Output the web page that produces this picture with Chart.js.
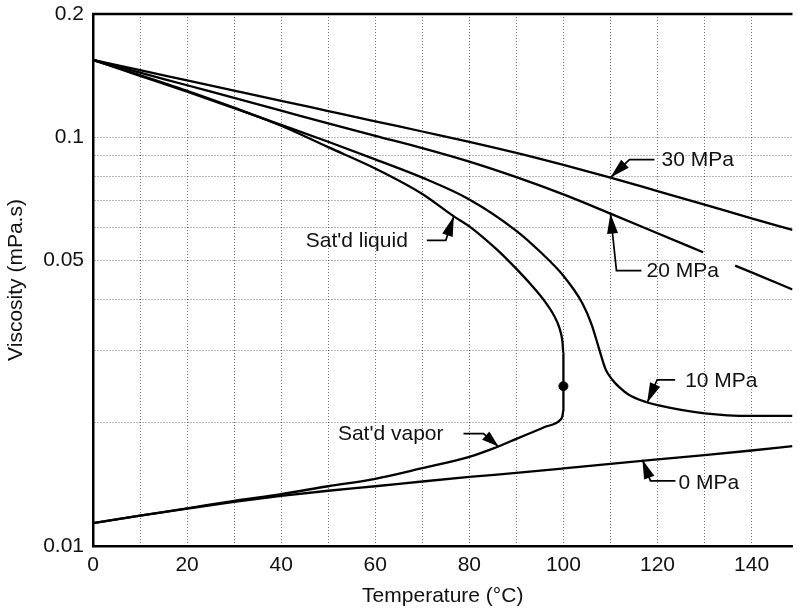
<!DOCTYPE html>
<html>
<head>
<meta charset="utf-8">
<script src="https://cdn.jsdelivr.net/npm/chart.js@4.4.1/dist/chart.umd.min.js"></script>
<style>
  html, body { margin: 0; padding: 0; background: #fff; }
  #wrap { width: 798px; height: 612px; position: relative; }
</style>
</head>
<body>
<div id="wrap"><canvas id="viscChart"></canvas></div>
<script>
// Viskositas air vs temperatur pada beberapa tekanan (skala log)
const temp30 = [0, 10, 20, 30, 40, 50, 60, 70, 80, 90, 100, 110, 120, 130, 140, 148.7];
const visc30 = [0.1544, 0.1458, 0.1376, 0.1299, 0.1227, 0.1158, 0.1093, 0.1032, 0.0974, 0.0915, 0.0855, 0.0796, 0.0738, 0.0684, 0.0633, 0.0593];

// garis 20 MPa terputus di tempat label (null = celah)
const temp20 = [0, 10, 20, 30, 40, 50, 60, 70, 80, 90, 100, 110, 120, 129.7, 133, 136.5, 140, 148.7];
const visc20 = [0.1544, 0.1438, 0.1339, 0.1247, 0.1161, 0.108, 0.1007, 0.094, 0.0871, 0.0798, 0.0724, 0.065, 0.0582, 0.0523, null, 0.0485, 0.0467, 0.0424];

const temp10 = [0, 10, 20, 30, 40, 50, 60, 70, 80, 90, 95, 100, 104, 106, 107.6, 109, 110.4, 111.8, 114, 117.5, 120, 130, 140, 148.7];
const visc10 = [0.1544, 0.1412, 0.1292, 0.1177, 0.1071, 0.0974, 0.0882, 0.0796, 0.0704, 0.059, 0.0525, 0.0458, 0.0393, 0.0348, 0.0303, 0.027, 0.0255, 0.0245, 0.0234, 0.0225, 0.0221, 0.0211, 0.0208, 0.0208];

const temp0 = [0, 10, 20, 30, 40, 50, 60, 70, 80, 90, 100, 110, 120, 130, 140, 148.7];
const visc0 = [0.01137, 0.01186, 0.01234, 0.01282, 0.01326, 0.01365, 0.0140, 0.01438, 0.01475, 0.0151, 0.01548, 0.01588, 0.01628, 0.01668, 0.01712, 0.01755];

const tempLiquid = [0, 10, 20, 30, 40, 50, 60, 70, 76.7, 80, 86, 90, 93, 96, 98, 99.2, 99.8, 100, 100];
const viscLiquid = [0.1544, 0.1418, 0.1298, 0.118, 0.1066, 0.0945, 0.0838, 0.0726, 0.064, 0.0605, 0.0529, 0.0476, 0.0437, 0.0397, 0.0366, 0.034, 0.0316, 0.0295, 0.0246];

const tempVapor = [0, 10, 20, 30, 40, 50, 60, 70, 80, 85, 90, 93, 96, 99.3, 99.8, 100, 100];
const viscVapor = [0.01137, 0.01186, 0.01236, 0.0129, 0.0134, 0.014, 0.0146, 0.0155, 0.01652, 0.0173, 0.01828, 0.0189, 0.01954, 0.02033, 0.0208, 0.0215, 0.0246];

// titik kritis
const critTemp = [100];
const critVisc = [0.0246];

// tick sumbu y
const yGridValues = [0.01, 0.02, 0.03, 0.04, 0.05, 0.06, 0.07, 0.08, 0.09, 0.1, 0.2];
const yTickLabels = [0.01, 0.05, 0.1, 0.2];

function toPoints(xs, ys) {
  return xs.map(function (x, i) {
    return { x: x, y: ys[i] };
  });
}

function curve(label, xs, ys) {
  return {
    label: label,
    data: toPoints(xs, ys),
    borderColor: "#000",
    borderWidth: 2.3,
    pointRadius: 0,
    cubicInterpolationMode: "monotone",
    fill: false,
    spanGaps: false,
  };
}

// label panah: ujung panah di kurva (data), siku & teks relatif dalam px
const notes = [
  { text: "30 MPa", x: 110, y: 0.0796, elbow: [19, -18], end: [44, -18], label: [51, -17], align: "left" },
  { text: "20 MPa", x: 110, y: 0.065, elbow: [6, 57], end: [31, 57], label: [36, 58], align: "left" },
  { text: "10 MPa", x: 117.8, y: 0.0224, elbow: [10, -23], end: [28, -23], label: [38, -22], align: "left" },
  { text: "0 MPa", x: 116.8, y: 0.01625, elbow: [8, 21], end: [33, 21], label: [36, 23], align: "left" },
  { text: "Sat'd vapor", x: 86.2, y: 0.0175, elbow: [-15, -13], end: [-35, -13], label: [-55, -12], align: "right" },
  { text: "Sat'd liquid", x: 76.7, y: 0.064, elbow: [-8, 24], end: [-27, 24], label: [-46, 25], align: "right" },
];

const FONT = "'Liberation Sans', Arial, Helvetica, sans-serif";
const FONT_SIZE = 21;

const annotatePlugin = {
  id: "annotate",
  afterDatasetsDraw: function (chart) {
    const ctx = chart.ctx;
    const xs = chart.scales.x;
    const ys = chart.scales.y;
    const area = chart.chartArea;

    ctx.save();
    // garis batas atas
    ctx.strokeStyle = "#000";
    ctx.lineWidth = 2.5;
    ctx.beginPath();
    ctx.moveTo(area.left - 1, area.top);
    ctx.lineTo(area.right, area.top);
    ctx.stroke();

    notes.forEach(function (n) {
      const tx = xs.getPixelForValue(n.x);
      const ty = ys.getPixelForValue(n.y);
      const ex = tx + n.elbow[0], ey = ty + n.elbow[1];

      // garis penunjuk
      ctx.strokeStyle = "#000";
      ctx.lineWidth = 1.7;
      ctx.beginPath();
      ctx.moveTo(tx + n.end[0], ty + n.end[1]);
      ctx.lineTo(ex, ey);
      ctx.lineTo(tx, ty);
      ctx.stroke();

      // kepala panah
      const dx = ex - tx, dy = ey - ty;
      const len = Math.sqrt(dx * dx + dy * dy);
      const ux = dx / len, uy = dy / len;
      const hl = Math.min(20, len * 0.85), hw = 5.5;
      ctx.fillStyle = "#000";
      ctx.beginPath();
      ctx.moveTo(tx, ty);
      ctx.lineTo(tx + ux * hl - uy * hw, ty + uy * hl + ux * hw);
      ctx.lineTo(tx + ux * hl + uy * hw, ty + uy * hl - ux * hw);
      ctx.closePath();
      ctx.fill();

      // teks
      ctx.fillStyle = "#111";
      ctx.font = FONT_SIZE + "px " + FONT;
      ctx.textAlign = n.align;
      ctx.textBaseline = "middle";
      ctx.fillText(n.text, tx + n.label[0], ty + n.label[1]);
    });
    ctx.restore();
  },
};

const ctxVisc = document.getElementById("viscChart").getContext("2d");
new Chart(ctxVisc, {
  type: "line",
  data: {
    datasets: [
      curve("30 MPa", temp30, visc30),
      curve("20 MPa", temp20, visc20),
      curve("10 MPa", temp10, visc10),
      curve("0 MPa", temp0, visc0),
      curve("Sat'd liquid", tempLiquid, viscLiquid),
      curve("Sat'd vapor", tempVapor, viscVapor),
      {
        label: "Critical point",
        data: toPoints(critTemp, critVisc),
        showLine: false,
        pointRadius: 4.5,
        pointBackgroundColor: "#000",
        pointBorderColor: "#000",
      },
    ],
  },
  options: {
    responsive: true,
    maintainAspectRatio: false,
    animation: false,
    layout: { padding: { top: 14, right: 0, bottom: 0, left: 0 } },
    plugins: {
      legend: { display: false },
      tooltip: { enabled: false },
    },
    scales: {
      x: {
        type: "linear",
        min: 0,
        max: 148.7,
        afterFit: function (scale) {
          scale.height = 66;
        },
        ticks: {
          stepSize: 10,
          autoSkip: false,
          maxRotation: 0,
          includeBounds: false,
          padding: 7,
          color: "#111",
          font: { family: FONT, size: FONT_SIZE },
          callback: function (v) {
            return v % 20 === 0 ? String(v) : "";
          },
        },
        grid: { color: "rgba(0,0,0,0.55)", lineWidth: 1, drawTicks: false },
        border: { display: true, color: "#000", width: 2.5, dash: [1, 2] },
        title: {
          display: true,
          text: "Temperature (°C)",
          color: "#111",
          font: { family: FONT, size: FONT_SIZE },
          padding: { top: 0, bottom: 3 },
        },
      },
      y: {
        type: "logarithmic",
        min: 0.01,
        max: 0.2,
        afterFit: function (scale) {
          scale.width = 93;
          // label 0.2 boleh keluar sedikit dari area plot
          scale.paddingTop = 0;
          scale.paddingBottom = 0;
        },
        afterBuildTicks: function (scale) {
          scale.ticks = yGridValues.map(function (v) {
            return { value: v };
          });
        },
        ticks: {
          autoSkip: false,
          padding: 9,
          color: "#111",
          font: { family: FONT, size: FONT_SIZE },
          callback: function (v) {
            return yTickLabels.indexOf(v) >= 0 ? String(v) : "";
          },
        },
        grid: { color: "rgba(0,0,0,0.55)", lineWidth: 1, drawTicks: false },
        border: { display: true, color: "#000", width: 2.5, dash: [1, 2] },
        title: {
          display: true,
          text: "Viscosity (mPa.s)",
          color: "#111",
          font: { family: FONT, size: FONT_SIZE },
          padding: { top: 4, bottom: 0 },
        },
      },
    },
  },
  plugins: [annotatePlugin],
});
</script>
</body>
</html>
